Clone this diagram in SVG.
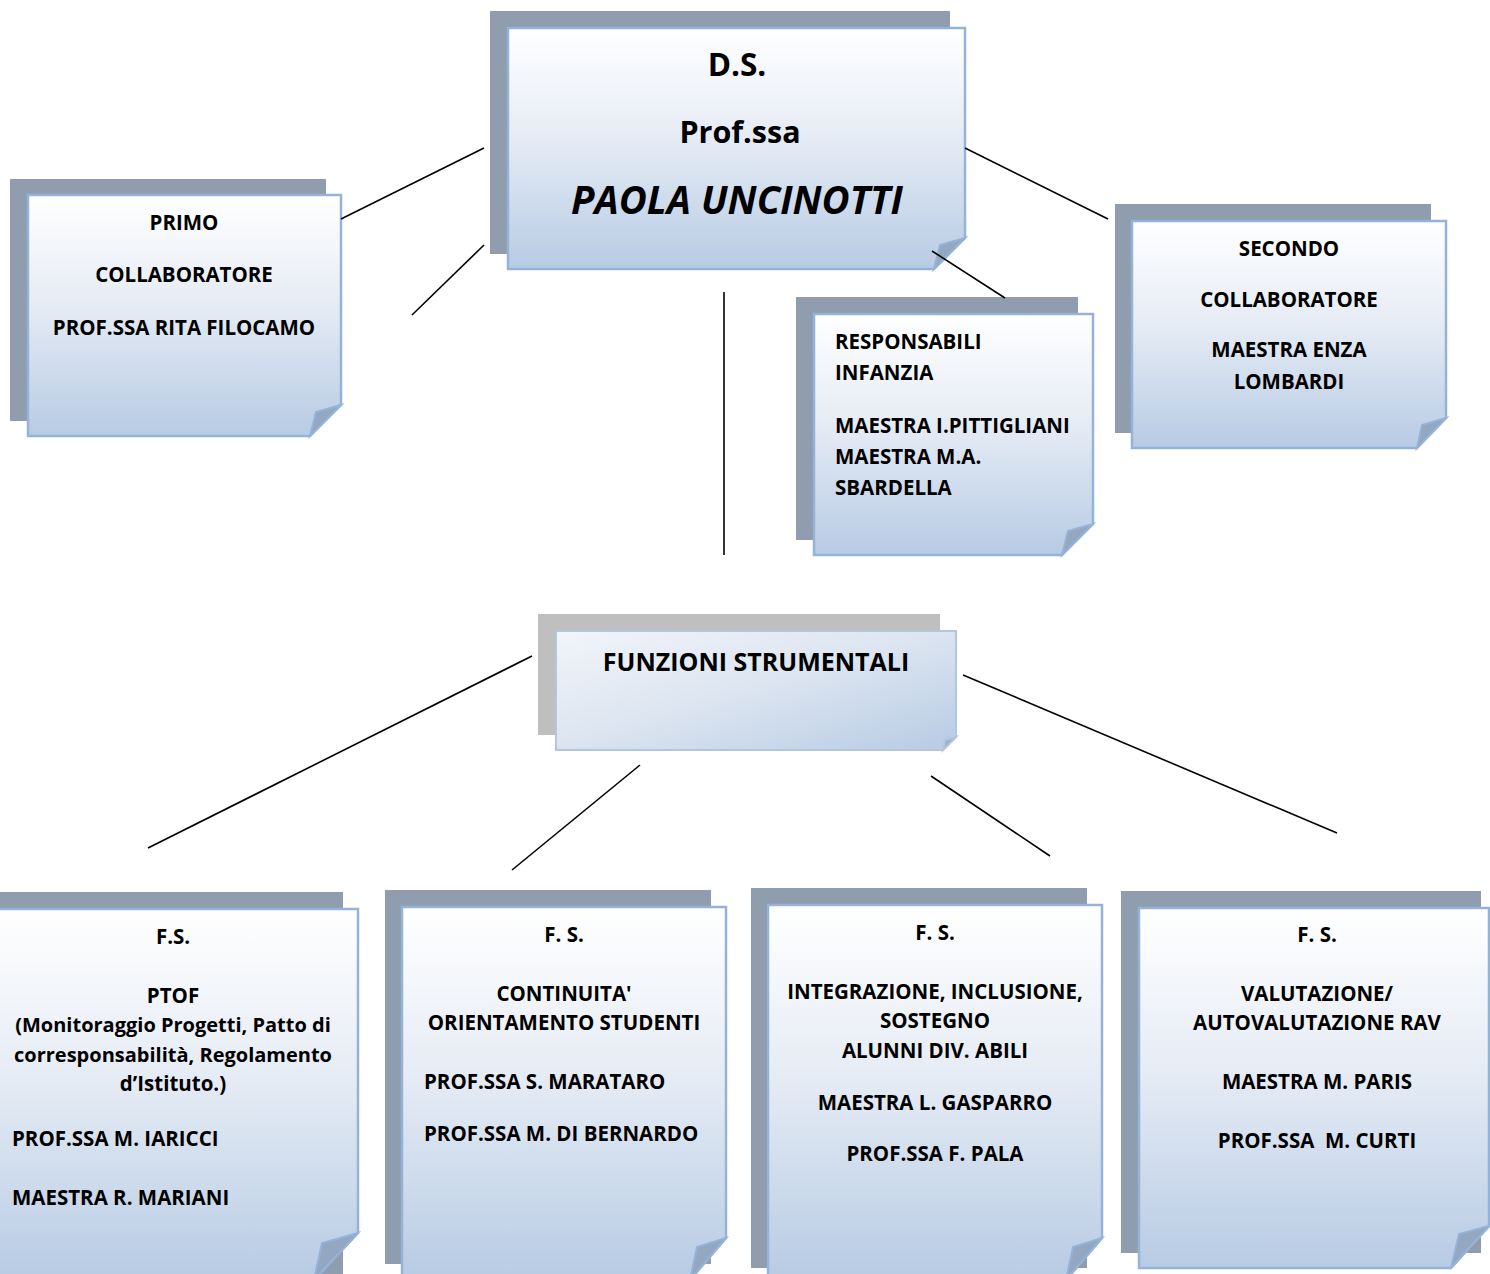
<svg xmlns="http://www.w3.org/2000/svg" width="1490" height="1274" viewBox="0 0 1490 1274">
<defs>
<linearGradient id="gv" x1="0" y1="0" x2="0" y2="1">
<stop offset="0" stop-color="#ffffff"/>
<stop offset="0.45" stop-color="#e6ecf5"/>
<stop offset="1" stop-color="#b7cbe4"/>
</linearGradient>
<linearGradient id="gd" x1="0" y1="0" x2="1" y2="1">
<stop offset="0" stop-color="#f2f5fa"/>
<stop offset="0.5" stop-color="#dbe4f0"/>
<stop offset="1" stop-color="#b7cbe4"/>
</linearGradient>
<style>
.sh{fill:#8f9dae;}
.shg{fill:#bfbfbf;}
.fr{fill:url(#gv);stroke:#95b3d7;stroke-width:2.5;}
.frd{fill:url(#gd);stroke:#b2c6e0;stroke-width:2;}
.fold{fill:#94a7c0;stroke:#95b3d7;stroke-width:2;}
.t{font-family:"Open Sans","Liberation Sans",sans-serif;font-weight:bold;font-size:20.5px;fill:#000;}
.c{text-anchor:middle;}
.ln{stroke:#000;stroke-width:1.6;fill:none;}
</style>
</defs>
<g id="ds">
<rect class="sh" x="490" y="11" width="460" height="243"/>
<path class="fr" d="M508 28 H965 V238 L934 269 H508 Z"/>
<path class="fold" d="M965 238 L940 245 L934 269 Z"/>
<text class="t c" x="737" y="76" style="font-size:31.5px">D.S.</text>
<text class="t c" x="740" y="143" style="font-size:30.5px">Prof.ssa</text>
<text class="t c" x="737" y="214" style="font-size:38.5px;font-style:italic">PAOLA UNCINOTTI</text>
</g>
<g id="primo">
<rect class="sh" x="10" y="179" width="316" height="242"/>
<path class="fr" d="M28 195 H341 V405 L310 436 H28 Z"/>
<path class="fold" d="M341 405 L316 412 L310 436 Z"/>
<text class="t c" x="184" y="230">PRIMO</text>
<text class="t c" x="184" y="282">COLLABORATORE</text>
<text class="t c" x="184" y="335">PROF.SSA RITA FILOCAMO</text>
</g>
<g id="secondo">
<rect class="sh" x="1115" y="204" width="316" height="229"/>
<path class="fr" d="M1132 221 H1446 V418 L1417 448 H1132 Z"/>
<path class="fold" d="M1446 418 L1422 425 L1417 448 Z"/>
<text class="t c" x="1289" y="256">SECONDO</text>
<text class="t c" x="1289" y="307">COLLABORATORE</text>
<text class="t c" x="1289" y="357">MAESTRA ENZA</text>
<text class="t c" x="1289" y="389">LOMBARDI</text>
</g>
<g id="responsabili">
<rect class="sh" x="796" y="297" width="282" height="243"/>
<path class="fr" d="M814 314 H1093 V524 L1062 555 H814 Z"/>
<path class="fold" d="M1093 524 L1068 531 L1062 555 Z"/>
<text class="t" x="835" y="349">RESPONSABILI</text>
<text class="t" x="835" y="380">INFANZIA</text>
<text class="t" x="835" y="433">MAESTRA I.PITTIGLIANI</text>
<text class="t" x="835" y="464">MAESTRA M.A.</text>
<text class="t" x="835" y="495">SBARDELLA</text>
</g>
<g id="funzioni">
<rect class="shg" x="538" y="614" width="402" height="121"/>
<path class="frd" d="M556 631 H956 V737 L943 750 H556 Z"/>
<path class="fold" d="M956 737 L945 740 L943 750 Z" style="fill:#a3adbd;stroke:#b2c6e0"/>
<text class="t c" x="756" y="671" style="font-size:25px">FUNZIONI STRUMENTALI</text>
</g>
<g id="fs1">
<rect class="sh" x="0" y="892" width="343" height="390"/>
<path class="fr" d="M-5 909 H358 V1233 L314 1280 H-5 Z"/>
<path class="fold" d="M358 1233 L322 1243 L314 1280 Z"/>
<text class="t c" x="173" y="944">F.S.</text>
<text class="t c" x="173" y="1003">PTOF</text>
<text class="t c" x="173" y="1032" style="font-size:20px">(Monitoraggio Progetti, Patto di</text>
<text class="t c" x="173" y="1062" style="font-size:20px">corresponsabilità, Regolamento</text>
<text class="t c" x="173" y="1091">d’Istituto.)</text>
<text class="t" x="12" y="1146">PROF.SSA M. IARICCI</text>
<text class="t" x="12" y="1205">MAESTRA R. MARIANI</text>
</g>
<g id="fs2">
<rect class="sh" x="385" y="890" width="326" height="374"/>
<path class="fr" d="M402 907 H726 V1238 L690 1280 H402 Z"/>
<path class="fold" d="M726 1238 L697 1247 L690 1280 Z"/>
<text class="t c" x="564" y="942">F. S.</text>
<text class="t c" x="564" y="1001">CONTINUITA'</text>
<text class="t c" x="564" y="1030">ORIENTAMENTO STUDENTI</text>
<text class="t" x="424" y="1089">PROF.SSA S. MARATARO</text>
<text class="t" x="424" y="1141">PROF.SSA M. DI BERNARDO</text>
</g>
<g id="fs3">
<rect class="sh" x="751" y="888" width="336" height="380"/>
<path class="fr" d="M768 905 H1102 V1238 L1066 1280 H768 Z"/>
<path class="fold" d="M1102 1238 L1073 1247 L1066 1280 Z"/>
<text class="t c" x="935" y="940">F. S.</text>
<text class="t c" x="935" y="999">INTEGRAZIONE, INCLUSIONE,</text>
<text class="t c" x="935" y="1028">SOSTEGNO</text>
<text class="t c" x="935" y="1058">ALUNNI DIV. ABILI</text>
<text class="t c" x="935" y="1110">MAESTRA L. GASPARRO</text>
<text class="t c" x="935" y="1161">PROF.SSA F. PALA</text>
</g>
<g id="fs4">
<rect class="sh" x="1121" y="891" width="360" height="362"/>
<path class="fr" d="M1139 908 H1489 V1226 L1451 1268 H1139 Z"/>
<path class="fold" d="M1489 1226 L1459 1234 L1451 1268 Z"/>
<text class="t c" x="1317" y="942">F. S.</text>
<text class="t c" x="1317" y="1001">VALUTAZIONE/</text>
<text class="t c" x="1317" y="1030">AUTOVALUTAZIONE RAV</text>
<text class="t c" x="1317" y="1089">MAESTRA M. PARIS</text>
<text class="t c" x="1317" y="1148" xml:space="preserve">PROF.SSA  M. CURTI</text>
</g>
<g id="connectors">
<line class="ln" x1="341" y1="219" x2="484" y2="148"/>
<line class="ln" x1="412" y1="315" x2="484" y2="245"/>
<line class="ln" x1="965" y1="148" x2="1108" y2="219"/>
<line class="ln" x1="932" y1="251" x2="1005" y2="298"/>
<line class="ln" x1="724" y1="292" x2="724" y2="555"/>
<line class="ln" x1="532" y1="656" x2="148" y2="848"/>
<line class="ln" x1="640" y1="765" x2="512" y2="870"/>
<line class="ln" x1="931" y1="776" x2="1050" y2="856"/>
<line class="ln" x1="963" y1="675" x2="1337" y2="833"/>
</g>
</svg>
